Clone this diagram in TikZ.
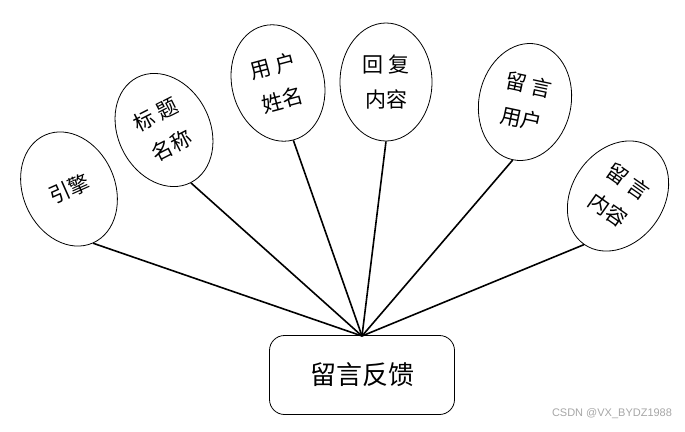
\documentclass[tikz,border=0pt]{standalone}
\usepackage{fontspec}
\usetikzlibrary{shapes.geometric}
\newfontfamily\cjk{Noto Sans CJK SC}
\newfontfamily\wmfont{Liberation Sans}
\tikzset{
  attr/.style={ellipse, draw, line width=0.8pt, minimum width=92pt, minimum height=118pt,
    inner sep=0pt, align=center, font=\cjk\fontsize{21pt}{35pt}\selectfont},
  entity/.style={rectangle, rounded corners=15pt, draw, line width=0.8pt,
    minimum width=185pt, minimum height=79pt, font=\cjk\fontsize{26pt}{30pt}\selectfont},
  link/.style={line width=1.6pt}
}
\begin{document}
\begin{tikzpicture}[x=1pt,y=-1pt]
\useasboundingbox (0,0) rectangle (685,431);
\node[entity] (r) at (362,375) {留言反馈};
\node[attr, rotate=24] (e1) at (69,189) {引擎};
\node[attr, rotate=27] (e2) at (164,130) {标 题\\名称};
\node[attr, rotate=15] (e3) at (278,83) {用 户\\姓名};
\node[attr] (e4) at (386,82) {回 复\\内容};
\node[attr, rotate=-12] (e5) at (525,102) {留 言\\用户};
\node[attr, rotate=-35] (e6) at (618,196) {留 言\\内容};
\coordinate (hub) at (362,336);
\foreach \e in {e1,e2,e3,e4,e5,e6}{
  \draw[link] (\e.south) -- (hub);
}
\node[font=\wmfont\fontsize{11pt}{13pt}\selectfont, text=black!35] (wm) at (612,414) {CSDN @VX\_BYDZ1988};
\end{tikzpicture}
\end{document}
